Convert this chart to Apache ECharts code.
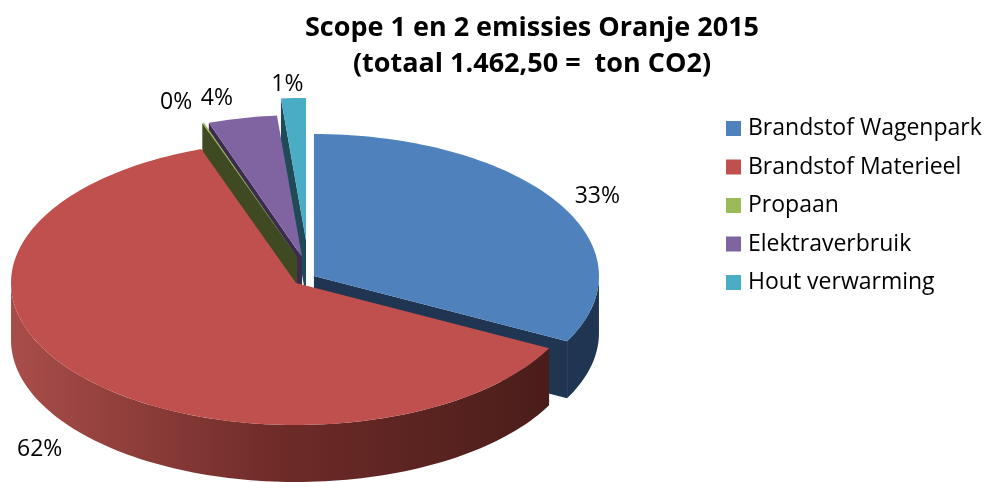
<!DOCTYPE html>
<html>
<head>
<meta charset="utf-8">
<title>Scope 1 en 2 emissies</title>
<script src="https://cdn.jsdelivr.net/npm/echarts@6/dist/echarts.min.js"></script>
<style>
  html, body { margin: 0; padding: 0; background: #fff; }
  #chart { width: 992px; height: 482px; }
</style>
</head>
<body>
<div id="chart"></div>
<script>
const categories = ['Brandstof Wagenpark', 'Brandstof Materieel', 'Propaan', 'Elektraverbruik', 'Hout verwarming'];
const shares = [32.6, 62.0, 0.1, 3.9, 1.4];

const topColors = ['#4F81BD', '#C0504D', '#9BBB59', '#8064A2', '#4BACC6'];
const wallColors = ['#1F3552', '#7A2F2C', '#3F4A23', '#3A2B4F', '#1F4A58'];
// back slices first, the red one has to lie over the blue wall
const paintOrder = [4, 3, 2, 0, 1];
// how far each slice is pulled out of the pie, in radii
const pullX = [0.063, 0, 0.004, 0.021, 0.035];
const pullY = [0.049, 0, 0.183, 0.183, 0.303];
// label tweak on top of the computed spot, px
const labelNudgeX = [1, -7, -12, -16, -4];
const labelNudgeY = [6, 1, 1, 3, 9];

const fontName = '"Open Sans", sans-serif';
const depth = 57; // px
const labelRadius = 1.16;

const total = shares.reduce((a, b) => a + b, 0);
const startAngles = [];
shares.reduce((sum, v, i) => {
  startAngles[i] = sum / total * 360;
  return sum + v;
}, 0);

// angle is clockwise from 12 o'clock, in degrees
const unit = (deg) => {
  const r = deg * Math.PI / 180;
  return [Math.sin(r), Math.cos(r)];
};

const arcPoints = (api, i, from, to, drop) => {
  const pts = [];
  const steps = Math.max(1, Math.ceil((to - from) / 1.5));
  for (let s = 0; s <= steps; s++) {
    const u = unit(from + (to - from) * s / steps);
    const p = api.coord([u[0] + pullX[i], u[1] + pullY[i]]);
    pts.push([p[0], p[1] + drop]);
  }
  return pts;
};

const polygon = (points, fill) => ({
  type: 'polygon',
  shape: { points },
  style: { fill, stroke: 'none' },
  silent: true
});

const cutFace = (api, i, angle) => {
  const apex = api.coord([pullX[i], pullY[i]]);
  const rim = arcPoints(api, i, angle, angle, 0)[0];
  return polygon([
    apex, rim,
    [rim[0], rim[1] + depth],
    [apex[0], apex[1] + depth]
  ], wallColors[i]);
};

const renderSlice = (params, api) => {
  const i = api.value(0);
  const from = startAngles[i];
  const to = from + api.value(1) / total * 360;
  const children = [];

  // outer wall, only the front half of the pie shows
  const wallFrom = Math.max(from, 90);
  const wallTo = Math.min(to, 270);
  if (wallTo > wallFrom) {
    const upper = arcPoints(api, i, wallFrom, wallTo, 0);
    const lower = arcPoints(api, i, wallFrom, wallTo, depth).reverse();
    const fill = i === 1
      ? new echarts.graphic.LinearGradient(0, 0, 1, 0, [
          { offset: 0, color: '#A94D4A' },
          { offset: 0.5, color: '#6E2B28' },
          { offset: 1, color: '#4A1D1A' }
        ])
      : wallColors[i];
    children.push(polygon(upper.concat(lower), fill));
  }

  if (from >= 180) children.push(cutFace(api, i, from));
  if (to <= 180) children.push(cutFace(api, i, to));

  const apex = api.coord([pullX[i], pullY[i]]);
  children.push(polygon([apex].concat(arcPoints(api, i, from, to, 0)), topColors[i]));

  const mid = (from + to) / 2;
  const u = unit(mid);
  const at = api.coord([u[0] * labelRadius + pullX[i], u[1] * labelRadius + pullY[i]]);
  children.push({
    type: 'text',
    silent: true,
    style: {
      text: Math.round(api.value(1)) + '%',
      x: at[0] + labelNudgeX[i],
      y: at[1] + labelNudgeY[i] + (u[1] < 0 ? depth : 0),
      align: 'center',
      verticalAlign: 'middle',
      fontSize: 23,
      fontFamily: fontName,
      fill: '#000'
    }
  });

  return { type: 'group', children };
};

const chart = echarts.init(document.getElementById('chart'));

chart.setOption({
  animation: false,
  backgroundColor: '#fff',
  title: {
    text: 'Scope 1 en 2 emissies Oranje 2015\n(totaal 1.462,50 =  ton CO2)',
    left: 527,
    top: 5,
    textAlign: 'center',
    textStyle: {
      fontFamily: fontName,
      fontSize: 27,
      fontWeight: 'bold',
      lineHeight: 36,
      color: '#000'
    }
  },
  legend: {
    orient: 'vertical',
    left: 726,
    top: 117,
    padding: 0,
    data: categories,
    icon: 'rect',
    itemWidth: 15,
    itemHeight: 15,
    itemGap: 15.5,
    selectedMode: false,
    textStyle: {
      fontFamily: fontName,
      fontSize: 23,
      color: '#000',
      padding: [0, 0, 0, 2]
    }
  },
  // the pie lives in a -1..1 square, stretched to an ellipse by the grid
  grid: { left: 11, top: 141, width: 570, height: 284 },
  xAxis: { type: 'value', min: -1, max: 1, show: false },
  yAxis: { type: 'value', min: -1, max: 1, show: false },
  series: paintOrder.map((i) => ({
    type: 'custom',
    name: categories[i],
    renderItem: renderSlice,
    coordinateSystem: 'cartesian2d',
    itemStyle: { color: topColors[i] },
    encode: { x: 0, y: 1 },
    data: [[i, shares[i]]],
    silent: true
  }))
});

window.addEventListener('resize', () => chart.resize());
</script>
</body>
</html>
